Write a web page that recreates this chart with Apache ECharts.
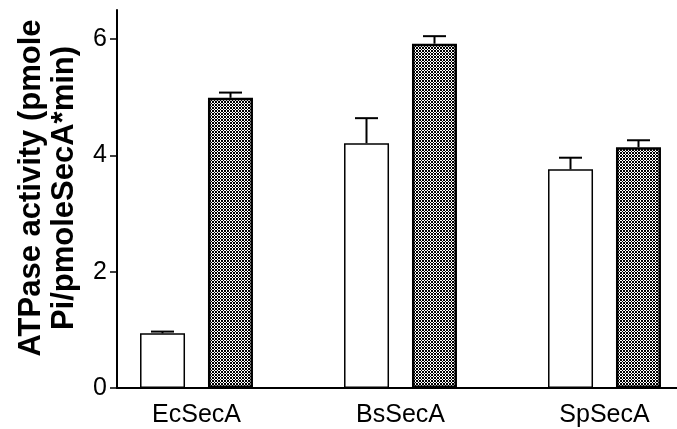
<!DOCTYPE html>
<html>
<head>
<meta charset="utf-8">
<script src="https://cdn.jsdelivr.net/npm/echarts@6/dist/echarts.min.js"></script>
<style>
html,body{margin:0;padding:0;background:#fff;}
#chart{width:677px;height:429px;}
</style>
</head>
<body>
<div id="chart"></div>
<script>
// ---- data ----
const categories = ['EcSecA', 'BsSecA', 'SpSecA'];
const openValues = [0.94, 4.21, 3.76];
const openErrors = [0.03, 0.43, 0.20];
const hatchedValues = [4.99, 5.92, 4.14];
const hatchedErrors = [0.09, 0.13, 0.12];
const yTicks = [0, 2, 4, 6];
const yTitle = 'ATPase activity (pmole\nPi/pmoleSecA*min)';

// ---- hatched fill pattern ----
function makePattern() {
  const c = document.createElement('canvas');
  c.width = 3; c.height = 3;
  const ctx = c.getContext('2d');
  ctx.fillStyle = '#000';
  ctx.fillRect(0, 0, 3, 3);
  ctx.fillStyle = '#fff';
  const white = [[1,0],[0,1],[2,1],[1,2]];
  white.forEach(p => ctx.fillRect(p[0], p[1], 1, 1));
  return c;
}
const pattern = { image: makePattern(), repeat: 'repeat' };

const FONT = 'Liberation Sans';
const BAR_W = 45;
const HALF_STEP = 34;

function errorSeries(values, errors, shift) {
  return {
    type: 'custom',
    xAxisIndex: 0,
    yAxisIndex: 0,
    z: 5,
    data: values.map((v, i) => [i, v, errors[i]]),
    encode: { x: 0, y: 1 },
    renderItem: function (params, api) {
      const top = api.coord([api.value(0), api.value(1)]);
      const hi = api.coord([api.value(0), api.value(1) + api.value(2)]);
      const x = top[0] + shift;
      const style = { stroke: '#000', lineWidth: 2 };
      return {
        type: 'group',
        children: [
          { type: 'line', shape: { x1: x, y1: top[1], x2: x, y2: hi[1] }, style: style },
          { type: 'line', shape: { x1: x - 11.5, y1: hi[1], x2: x + 11.5, y2: hi[1] }, style: style }
        ]
      };
    }
  };
}

const chart = echarts.init(document.getElementById('chart'), null, { renderer: 'canvas' });
chart.setOption({
  backgroundColor: '#fff',
  animation: false,
  grid: [
    { left: 94.5, top: 10, width: 612, bottom: 41, outerBoundsMode: 'none', containLabel: false },
    { left: 117, top: 10, right: 0, bottom: 41, outerBoundsMode: 'none', containLabel: false }
  ],
  xAxis: [
    {
      gridIndex: 0, type: 'category', data: categories,
      axisLine: { show: false }, axisTick: { show: false },
      axisLabel: { fontSize: 25, color: '#000', fontFamily: FONT, margin: 15 }
    },
    {
      gridIndex: 1, type: 'value', min: 0, max: 1,
      axisLine: { show: true, onZero: false, lineStyle: { color: '#000', width: 2 } },
      axisTick: { show: false }, axisLabel: { show: false }, splitLine: { show: false }
    }
  ],
  yAxis: [
    { gridIndex: 0, type: 'value', min: 0, max: 6.5, show: false, splitLine: { show: false } },
    {
      gridIndex: 1, type: 'value', min: 0, max: 6.5, interval: 2,
      axisLine: { show: true, lineStyle: { color: '#000', width: 2 } },
      axisTick: { show: true, length: 7, customValues: yTicks, lineStyle: { color: '#000', width: 1.5 } },
      axisLabel: { customValues: yTicks, fontSize: 25, color: '#000', fontFamily: FONT, margin: 10 },
      splitLine: { show: false },
      name: yTitle,
      nameLocation: 'middle',
      nameRotate: 90,
      nameGap: 36,
      nameTextStyle: {
        fontSize: 31, fontWeight: 'bold', color: '#000', fontFamily: FONT,
        lineHeight: 33, align: 'center', padding: [0, 0, 0, 22]
      }
    }
  ],
  series: [
    {
      type: 'bar', xAxisIndex: 0, yAxisIndex: 0,
      data: openValues, barWidth: BAR_W, barGap: '51%',
      itemStyle: { color: '#fff', borderColor: '#000', borderWidth: 1.5 }
    },
    {
      type: 'bar', xAxisIndex: 0, yAxisIndex: 0,
      data: hatchedValues, barWidth: BAR_W, barGap: '51%',
      itemStyle: { color: pattern, borderColor: '#000', borderWidth: 2.5 }
    },
    errorSeries(openValues, openErrors, -HALF_STEP),
    errorSeries(hatchedValues, hatchedErrors, HALF_STEP)
  ]
});
</script>
</body>
</html>
